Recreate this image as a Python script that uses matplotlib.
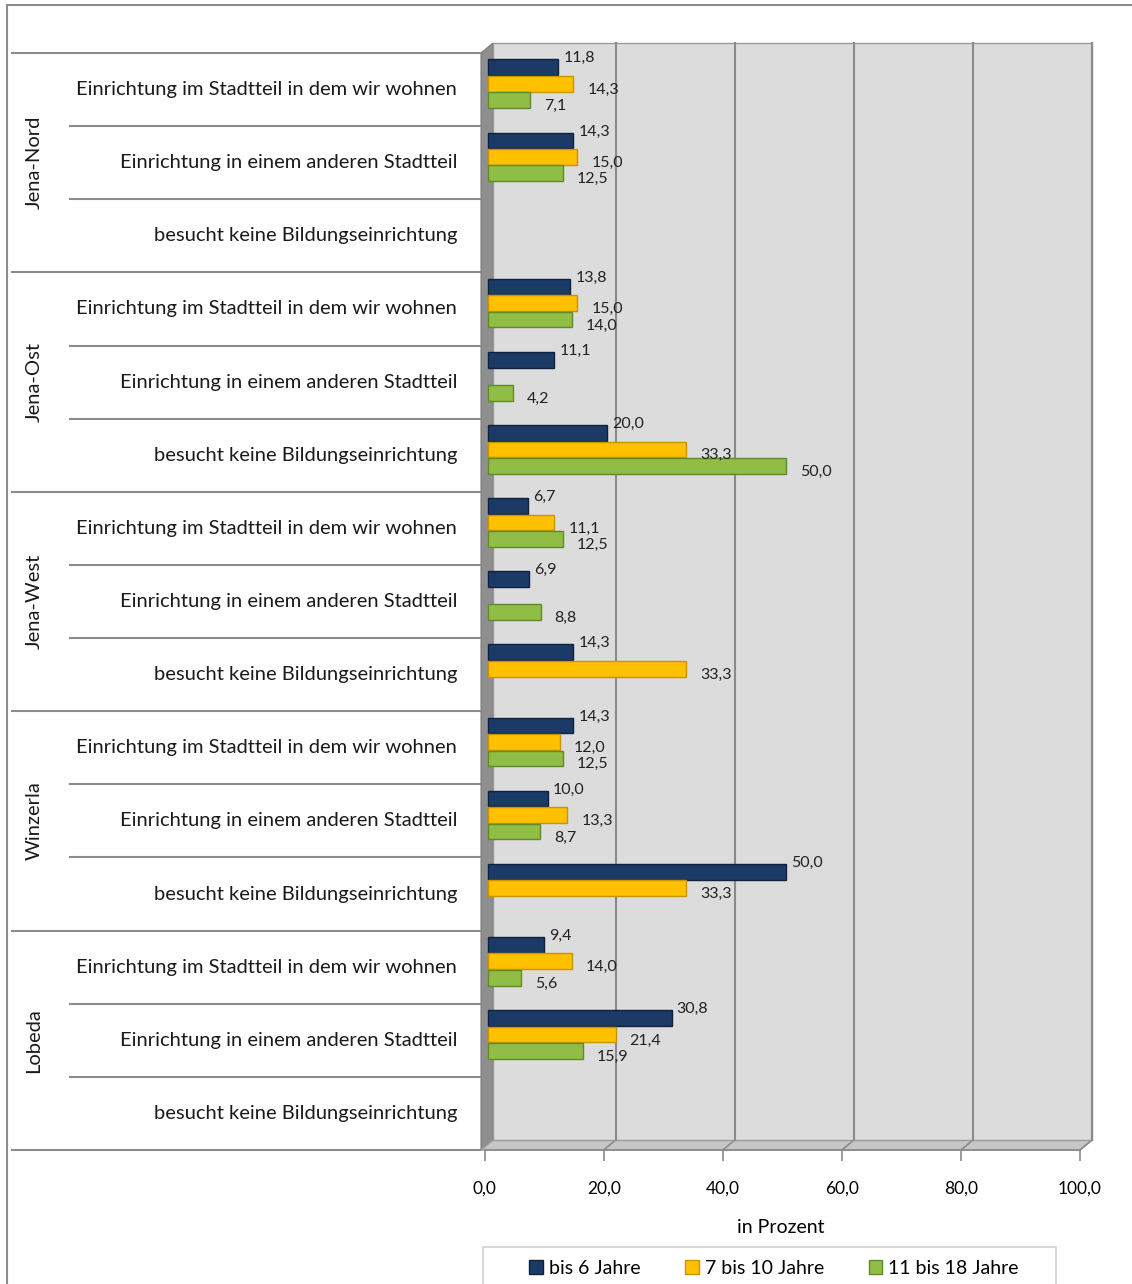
import numpy as np
import matplotlib as mpl
import matplotlib.pyplot as plt
import matplotlib.transforms as mtransforms
from matplotlib.patches import Polygon, Rectangle, Patch

mpl.use("Agg")

groups = ["Jena-Nord", "Jena-Ost", "Jena-West", "Winzerla", "Lobeda"]
answers = [
    "Einrichtung im Stadtteil in dem wir wohnen",
    "Einrichtung in einem anderen Stadtteil",
    "besucht keine Bildungseinrichtung",
]
series_names = ["bis 6 Jahre", "7 bis 10 Jahre", "11 bis 18 Jahre"]
nan = np.nan
# one row per (group, answer), top to bottom
bis6 = [11.8, 14.3, nan, 13.8, 11.1, 20.0, 6.7, 6.9, 14.3, 14.3, 10.0, 50.0, 9.4, 30.8, nan]
bis10 = [14.3, 15.0, nan, 15.0, nan, 33.3, 11.1, nan, 33.3, 12.0, 13.3, 33.3, 14.0, 21.4, nan]
bis18 = [7.1, 12.5, nan, 14.0, 4.2, 50.0, 12.5, 8.8, nan, 12.5, 8.7, nan, 5.6, 15.9, nan]

colors = ["#1c3a66", "#ffc000", "#8fbd45"]
edges = ["#0e2240", "#c99400", "#5f8a25"]
label_dx = [5, 14, 14]
label_dy = [-9, 6, 6]
offsets = [-0.305, -0.08, 0.145]
bar_h = 0.215

plt.rcParams["font.family"] = ["Lato", "DejaVu Sans"]

W, H = 1132, 1284
fig = plt.figure(figsize=(W / 100, H / 100), dpi=100)


def fx(px):
    return px / W


def fy(py):
    return 1 - py / H


# chart area border
fig.patches.append(Rectangle((fx(7), fy(1300)), fx(1140) - fx(7), fy(5) - fy(1300),
                             transform=fig.transFigure, fill=False, zorder=-2,
                             edgecolor="#8c8c8c", linewidth=1.5))

left, right, top, bottom = 481, 1080, 53, 1150
ax = fig.add_axes([fx(left), fy(bottom), fx(right) - fx(left), fy(top) - fy(bottom)])
ax.set_xlim(-0.6, 100)
n = len(bis6)
ax.set_ylim(n - 0.5, -0.5)
ax.patch.set_alpha(0)
for s in ax.spines.values():
    s.set_visible(False)

dx, dy = 12, 10  # depth offset in pixels
depth = mtransforms.ScaledTranslation(dx / 100, dy / 100, fig.dpi_scale_trans)

# back wall
wall = Rectangle((0, 0), 1, 1, transform=ax.transAxes + depth, clip_on=False,
                 facecolor="#dcdcdc", edgecolor="#9a9a9a", linewidth=1, zorder=0)
ax.add_patch(wall)
to_fig = fig.transFigure.inverted()
L = ax.transAxes.transform((0, 0))[0]
R = ax.transAxes.transform((1, 0))[0]
B = ax.transAxes.transform((0, 0))[1]
T = ax.transAxes.transform((0, 1))[1]
# side wall
sw = [to_fig.transform(p) for p in [(L, B), (L, T), (L + dx, T + dy), (L + dx, B + dy)]]
fig.patches.append(Polygon(sw, closed=True, transform=fig.transFigure, zorder=-1,
                           facecolor="#8f8f8f", edgecolor="#7a7a7a", linewidth=0.8))
# floor
fl = [to_fig.transform(p) for p in [(L, B), (R, B), (R + dx, B + dy), (L + dx, B + dy)]]
fig.patches.append(Polygon(fl, closed=True, transform=fig.transFigure, zorder=-1,
                           facecolor="#c6c6c6", edgecolor="#9a9a9a", linewidth=1))

# gridlines on back wall plus diagonal joins on the floor
ticks = [0, 20, 40, 60, 80, 100]
xt = ax.get_xaxis_transform()
for t in ticks[1:]:
    ax.plot([t, t], [0, 1], transform=xt + depth, color="#8a8a8a", lw=1.5,
            zorder=1, clip_on=False)
    xa = ax.transData.transform((t, 0))[0]
    pa = to_fig.transform((xa, B))
    pb = to_fig.transform((xa + dx, B + dy))
    fig.add_artist(plt.Line2D([pa[0], pb[0]], [pa[1], pb[1]], transform=fig.transFigure,
                              color="#8a8a8a", lw=1.2, zorder=-0.5))

# bars
y = np.arange(n)
for vals, off, c, ec, ldx, ldy in zip([bis6, bis10, bis18], offsets, colors, edges,
                                      label_dx, label_dy):
    v = np.array(vals)
    ax.barh(y + off, v, left=0.6, height=bar_h, color=c, edgecolor=ec,
            linewidth=1, zorder=3)
    for yi, vi in zip(y, v):
        if np.isnan(vi):
            continue
        lt = ax.transData + mtransforms.ScaledTranslation(ldx / 100, -ldy / 100, fig.dpi_scale_trans)
        ax.text(vi + 0.6, yi + off, f"{vi:.1f}".replace(".", ","), transform=lt,
                ha="left", va="center", fontsize=11.5, color="#222222", zorder=5)

# x axis at front
ax.set_xticks(ticks)
ax.set_xticklabels([f"{t},0" for t in ticks], fontsize=12.5)
ax.tick_params(axis="x", length=8, color="#8a8a8a", pad=14, width=1.2)
ax.spines["bottom"].set_visible(True)
ax.spines["bottom"].set_color("#8a8a8a")
ax.spines["bottom"].set_linewidth(1.2)
ax.spines["bottom"].set_bounds(0, 100)
ax.set_yticks([])
ax.set_xlabel("in Prozent", fontsize=14, labelpad=16)

# category labels and separators
yf = mtransforms.blended_transform_factory(fig.transFigure, ax.transData)
for i in range(n + 1):
    yy = i - 0.5
    x0 = fx(12) if i % 3 == 0 else fx(70)
    fig.add_artist(plt.Line2D([x0, fx(480)], [yy, yy], transform=yf,
                              color="#8c8c8c", lw=1.5))
for i in range(n):
    fig.text(fx(457), i, answers[i % 3], transform=yf, ha="right", va="center",
             fontsize=14.5, color="#1a1a1a")
for g, name in enumerate(groups):
    fig.text(fx(34), g * 3 + 1, name, transform=yf, ha="center", va="center",
             rotation=90, fontsize=14.5, color="#1a1a1a")

# legend (frame drawn separately, it runs off the bottom edge)
fig.patches.append(Rectangle((fx(483), fy(1300)), fx(1056) - fx(483), fy(1247) - fy(1300),
                             transform=fig.transFigure, facecolor="white",
                             edgecolor="#d0d0d0", linewidth=1.2, zorder=-1))
handles = [Patch(facecolor=c, edgecolor=ec) for c, ec in zip(colors, edges)]
fig.legend(handles, series_names, loc="center", ncol=3,
           bbox_to_anchor=(fx(774), fy(1268)), fontsize=14, frameon=False,
           handlelength=0.7, handleheight=0.7, handletextpad=0.3,
           columnspacing=2.3, borderpad=0, borderaxespad=0)

fig.savefig("out.png", dpi=100)
